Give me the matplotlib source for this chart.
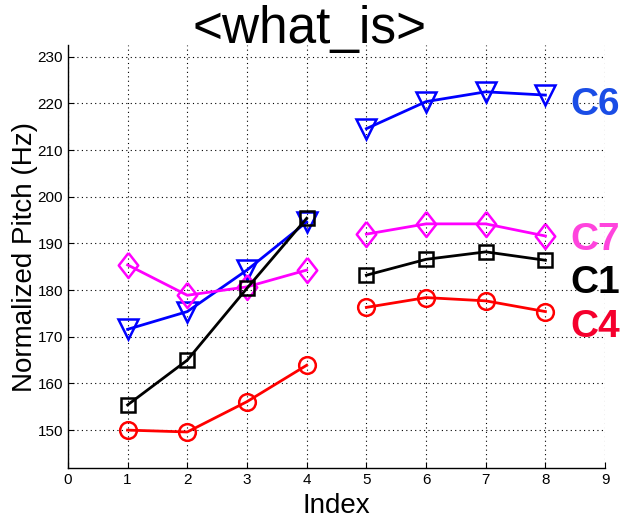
import matplotlib.pyplot as plt

plt.rcParams['font.family'] = ['Liberation Sans', 'DejaVu Sans']

index = [1, 2, 3, 4, 5, 6, 7, 8]
c6 = [171.6, 175.4, 184.3, 194.6, 214.6, 220.4, 222.5, 221.8]
c7 = [185.4, 178.9, 180.7, 184.3, 192.0, 194.2, 194.2, 191.6]
c1 = [155.4, 165.0, 180.4, 195.4, 183.2, 186.6, 188.2, 186.4]
c4 = [150.0, 149.6, 156.1, 163.9, 176.3, 178.4, 177.7, 175.4]

labels = ['C6', 'C7', 'C1', 'C4']
label_y = [219.7, 190.7, 181.5, 172.1]

fig = plt.figure(figsize=(6.29, 5.19), dpi=100)
ax = fig.add_axes([0.108, 0.098, 0.854, 0.815])

# matlab-style diamond: taller than wide
diamond = [(0, 1), (0.78, 0), (0, -1), (-0.78, 0), (0, 1)]

series = [
    (c6, 'v', 14, '#0000ff'),
    (c7, diamond, 18, '#ff00ff'),
    (c1, 's', 10, '#000000'),
    (c4, 'o', 12, '#ff0000'),
]
for vals, mk, ms, col in series:
    # two separate sessions: points 1-4 and 5-8
    for a, b in [(0, 4), (4, 8)]:
        ax.plot(index[a:b], vals[a:b], color=col, lw=2, marker=mk, ms=ms,
                mfc='none', mec=col, mew=1.8)

label_colors = ['#1a4de6', '#ff44dd', '#000000', '#f5002d']
for lab, yy, col in zip(labels, label_y, label_colors):
    ax.text(8.42, yy, lab, color=col, fontsize=28, fontweight='bold',
            va='center', ha='left', clip_on=False)

ax.set_xlim(0, 9)
ax.set_ylim(141.85, 232.5)
ax.set_xticks(range(0, 10))
ax.set_yticks(range(150, 231, 10))
ax.grid(True, color='black', linestyle=(0, (1, 3)), linewidth=0.8)
ax.tick_params(direction='in', labelsize=11, length=4)
for s in ['top', 'right']:
    ax.spines[s].set_visible(False)
ax.spines['left'].set_linewidth(1)
ax.spines['bottom'].set_linewidth(1)

ax.set_xlabel('Index', fontsize=20, labelpad=4)
ax.set_ylabel('Normalized Pitch (Hz)', fontsize=20, labelpad=0)
fig.text(310 / 629, 1 - 43 / 519, '<what_is>', fontsize=37, ha='center',
         va='baseline')

fig.savefig('out.png', dpi=100)
